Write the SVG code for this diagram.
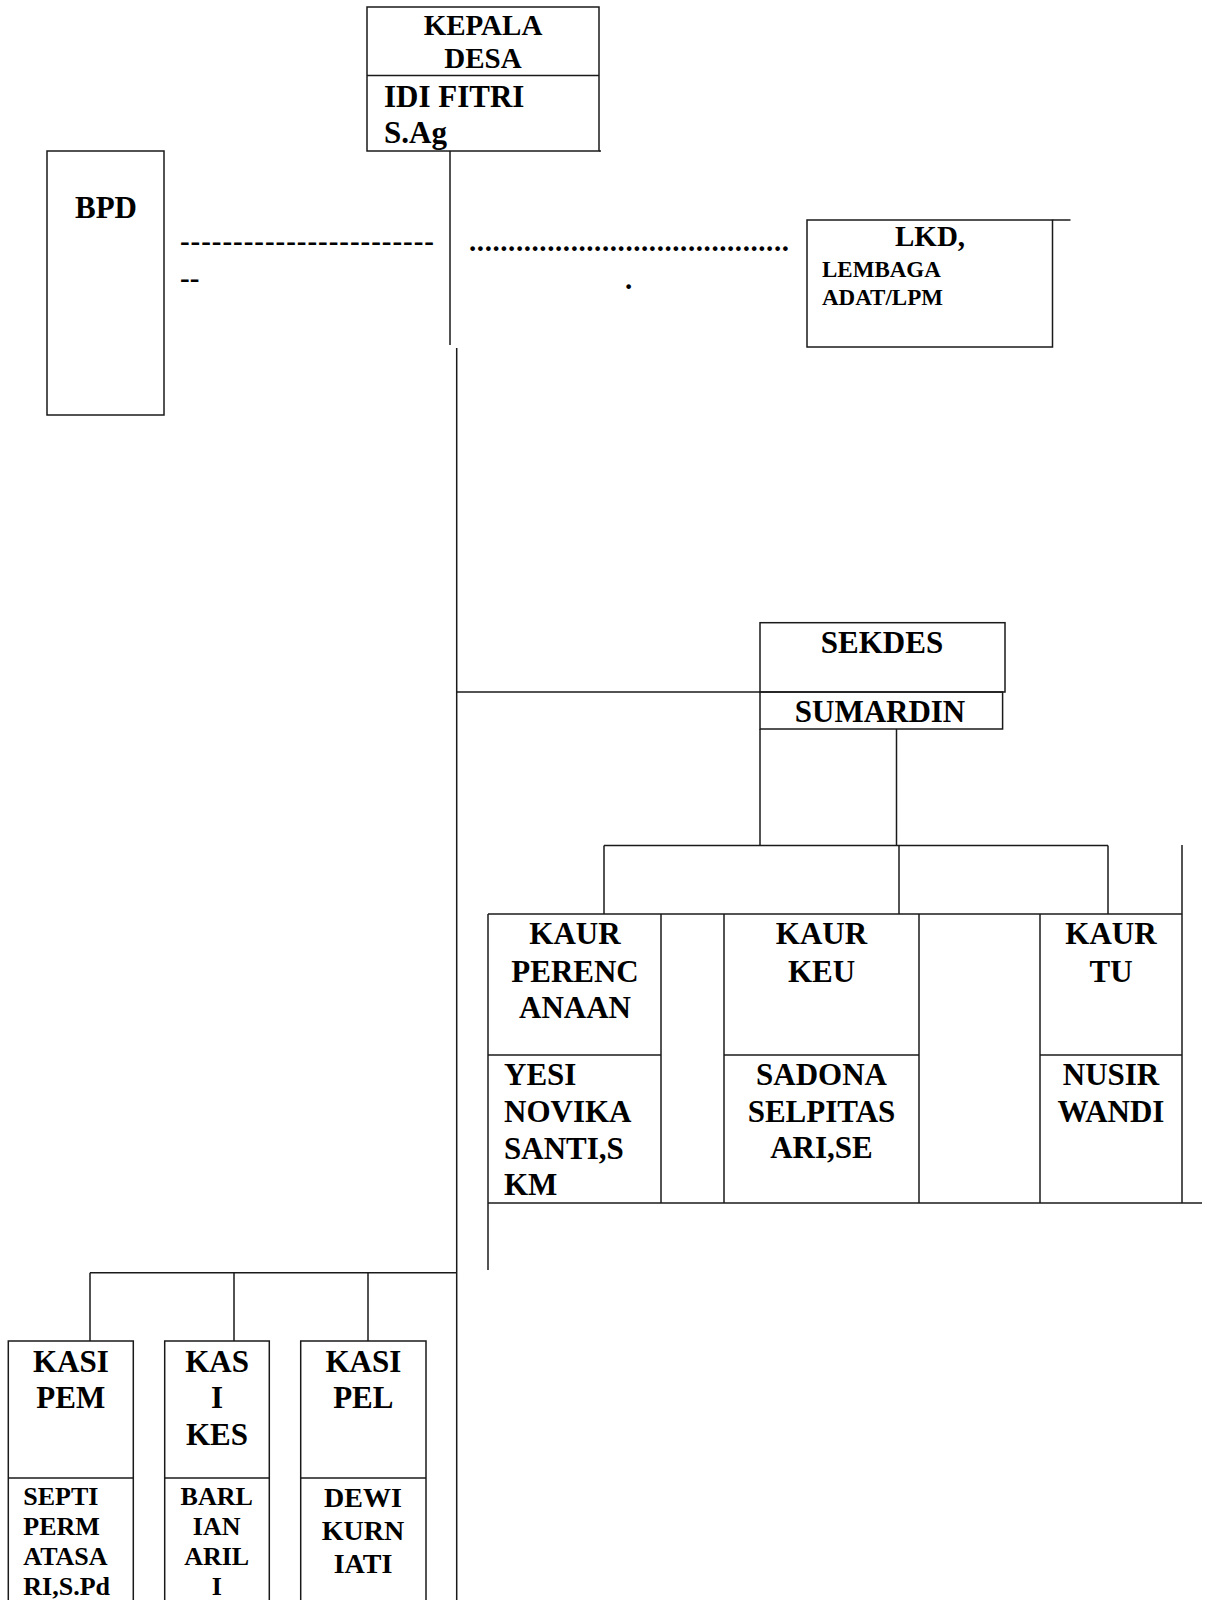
<svg xmlns="http://www.w3.org/2000/svg" width="1207" height="1600" viewBox="0 0 1207 1600">
<style>
  .b { fill: none; stroke: #1a1a1a; stroke-width: 1.5; }
  .t { font-family: "Liberation Serif", "Times New Roman", serif; font-weight: bold; fill: #000; }
  .c { text-anchor: middle; }
  .f31 { font-size: 31px; }
  .f29 { font-size: 29px; }
  .f28 { font-size: 28px; }
  .f26 { font-size: 26px; }
  .f23 { font-size: 23px; }
</style>
<rect x="0" y="0" width="1207" height="1600" fill="#fff"/>

<g id="connectors" class="b">
  <line x1="450" y1="151" x2="450" y2="345"/>
  <line x1="456.7" y1="348" x2="456.7" y2="1600"/>
  <line x1="456.7" y1="692" x2="760" y2="692"/>
  <line x1="760" y1="729" x2="760" y2="845.5"/>
  <line x1="896.5" y1="729" x2="896.5" y2="845.5"/>
  <line x1="604" y1="845.5" x2="1108" y2="845.5"/>
  <line x1="604" y1="845.5" x2="604" y2="914"/>
  <line x1="899" y1="845.5" x2="899" y2="914"/>
  <line x1="1108" y1="845.5" x2="1108" y2="914"/>
  <line x1="1182" y1="845" x2="1182" y2="1203"/>
  <line x1="488" y1="1203" x2="1202" y2="1203"/>
  <line x1="488" y1="914" x2="488" y2="1270"/>
  <line x1="90" y1="1272.7" x2="456.7" y2="1272.7"/>
  <line x1="90" y1="1272.7" x2="90" y2="1341"/>
  <line x1="234" y1="1272.7" x2="234" y2="1341"/>
  <line x1="368" y1="1272.7" x2="368" y2="1341"/>
</g>

<g id="kepala-desa">
  <rect class="b" x="367" y="7" width="232" height="144"/>
  <line class="b" x1="599" y1="151" x2="601" y2="151"/>
  <line class="b" x1="367" y1="75.5" x2="599" y2="75.5"/>
  <text class="t f29 c" x="483" y="35">KEPALA</text>
  <text class="t f29 c" x="483" y="68">DESA</text>
  <text class="t f31" x="384" y="107">IDI FITRI</text>
  <text class="t f31" x="384" y="143">S.Ag</text>
</g>

<g id="bpd">
  <rect class="b" x="47" y="151" width="117" height="264"/>
  <text class="t f31" x="75" y="218">BPD</text>
</g>

<g id="bpd-dashes">
  <text class="t f29" x="180" y="251" textLength="254" lengthAdjust="spacing">------------------------</text>
  <text class="t f29" x="180" y="288">--</text>
</g>

<g id="lkd-dots">
  <text class="t f29" x="469" y="251" textLength="320" lengthAdjust="spacing">.........................................</text>
  <text class="t f29" x="625" y="289">.</text>
</g>

<g id="lkd">
  <rect class="b" x="807" y="220" width="245.5" height="127"/>
  <line class="b" x1="1052.5" y1="220" x2="1070.5" y2="220"/>
  <text class="t f29" x="895" y="246">LKD,</text>
  <text class="t f23" x="822" y="277">LEMBAGA</text>
  <text class="t f23" x="822" y="305">ADAT/LPM</text>
</g>

<g id="sekdes">
  <rect class="b" x="760" y="622.7" width="245" height="69.3"/>
  <rect class="b" x="760" y="692" width="242.6" height="37"/>
  <text class="t f31 c" x="882" y="653">SEKDES</text>
  <text class="t f31 c" x="880" y="722">SUMARDIN</text>
</g>

<g id="kaur-frame" class="b">
  <line x1="488" y1="914" x2="1182" y2="914"/>
  <line x1="661" y1="914" x2="661" y2="1203"/>
  <line x1="724" y1="914" x2="724" y2="1203"/>
  <line x1="919" y1="914" x2="919" y2="1203"/>
  <line x1="1040" y1="914" x2="1040" y2="1203"/>
</g>

<g id="kaur-perencanaan">
  <line class="b" x1="488" y1="1055" x2="661" y2="1055"/>
  <text class="t f31 c" x="575" y="944">KAUR</text>
  <text class="t f31 c" x="575" y="982">PERENC</text>
  <text class="t f31 c" x="575" y="1018">ANAAN</text>
  <text class="t f31" x="504" y="1085">YESI</text>
  <text class="t f31" x="504" y="1122">NOVIKA</text>
  <text class="t f31" x="504" y="1159">SANTI,S</text>
  <text class="t f31" x="504" y="1195">KM</text>
</g>

<g id="kaur-keu">
  <line class="b" x1="724" y1="1055" x2="919" y2="1055"/>
  <text class="t f31 c" x="821.5" y="944">KAUR</text>
  <text class="t f31 c" x="821.5" y="982">KEU</text>
  <text class="t f31 c" x="821.5" y="1085">SADONA</text>
  <text class="t f31 c" x="821.5" y="1122">SELPITAS</text>
  <text class="t f31 c" x="821.5" y="1158">ARI,SE</text>
</g>

<g id="kaur-tu">
  <line class="b" x1="1040" y1="1055" x2="1182" y2="1055"/>
  <text class="t f31 c" x="1111" y="944">KAUR</text>
  <text class="t f31 c" x="1111" y="982">TU</text>
  <text class="t f31 c" x="1111" y="1085">NUSIR</text>
  <text class="t f31 c" x="1111" y="1122">WANDI</text>
</g>

<g id="kasi-pem">
  <path class="b" d="M8.3,1600 V1341 H133.3 V1600"/>
  <line class="b" x1="8.3" y1="1478" x2="133.3" y2="1478"/>
  <text class="t f31 c" x="70.8" y="1371.7">KASI</text>
  <text class="t f31 c" x="70.8" y="1408">PEM</text>
  <text class="t f26" x="23.3" y="1505">SEPTI</text>
  <text class="t f26" x="23.3" y="1535">PERM</text>
  <text class="t f26" x="23.3" y="1565">ATASA</text>
  <text class="t f26" x="23.3" y="1595">RI,S.Pd</text>
</g>

<g id="kasi-kes">
  <path class="b" d="M164.7,1600 V1341 H269.3 V1600"/>
  <line class="b" x1="164.7" y1="1478" x2="269.3" y2="1478"/>
  <text class="t f31 c" x="217" y="1371.7">KAS</text>
  <text class="t f31 c" x="217" y="1408">I</text>
  <text class="t f31 c" x="217" y="1445">KES</text>
  <text class="t f26 c" x="216.7" y="1505">BARL</text>
  <text class="t f26 c" x="216.7" y="1535">IAN</text>
  <text class="t f26 c" x="216.7" y="1565">ARIL</text>
  <text class="t f26 c" x="216.7" y="1595">I</text>
</g>

<g id="kasi-pel">
  <path class="b" d="M300.7,1600 V1341 H426 V1600"/>
  <line class="b" x1="300.7" y1="1478" x2="426" y2="1478"/>
  <text class="t f31 c" x="363.3" y="1371.7">KASI</text>
  <text class="t f31 c" x="363.3" y="1408">PEL</text>
  <text class="t f28 c" x="363" y="1507">DEWI</text>
  <text class="t f28 c" x="363" y="1540">KURN</text>
  <text class="t f28 c" x="363" y="1573">IATI</text>
</g>
</svg>
